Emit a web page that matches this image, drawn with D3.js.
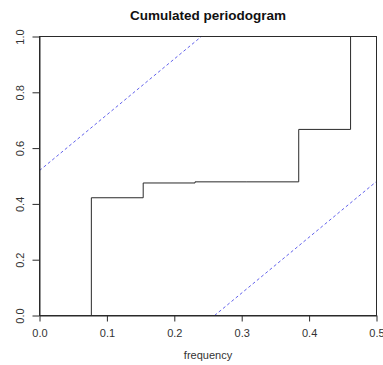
<!DOCTYPE html>
<html>
<head>
<meta charset="utf-8">
<script src="https://cdn.jsdelivr.net/npm/d3@7"></script>
<style>
  html, body { margin: 0; padding: 0; background: #fff; }
  svg { display: block; font-family: "Liberation Sans", Arial, sans-serif; }
</style>
</head>
<body>
<svg id="chart" width="383" height="365"></svg>
<script>
// Fourier frequencies (k/13) and the cumulated, normalised periodogram at each
const frequencies = [0, 1/13, 2/13, 3/13, 4/13, 5/13, 6/13];
const cumulated   = [0, 0.422, 0.475, 0.479, 0.479, 0.667, 1.0];

// Kolmogorov–Smirnov band: half-width and the Nyquist frequency
const crit = 0.5195;
const nyquist = 0.5;
const bandUpper = [[0, crit], [nyquist * (1 - crit), 1]];
const bandLower = [[nyquist * crit, 0], [nyquist, 1 - crit]];

const xTicks = [0, 0.1, 0.2, 0.3, 0.4, 0.5];
const yTicks = [0, 0.2, 0.4, 0.6, 0.8, 1.0];

const svg = d3.select("#chart");
const plotLeft = 39.5, plotRight = 376.5, plotTop = 36.5, plotBottom = 315.5;

const x = d3.scaleLinear().domain([0, nyquist]).range([plotLeft, plotRight]);
const y = d3.scaleLinear().domain([0, 1]).range([plotBottom, plotTop]);

const ink = "#2a2a2a";

// step line of the cumulated periodogram (horizontal first, then vertical)
const step = d3.line()
  .x((d, i) => x(frequencies[i]))
  .y(d => y(d))
  .curve(d3.curveStepAfter);

svg.append("path")
  .datum(cumulated)
  .attr("d", step)
  .attr("fill", "none")
  .attr("stroke", ink)
  .attr("stroke-width", 1);

// dashed confidence band
const seg = d3.line().x(d => x(d[0])).y(d => y(d[1]));
[bandUpper, bandLower].forEach(b => {
  svg.append("path")
    .datum(b)
    .attr("d", seg)
    .attr("fill", "none")
    .attr("stroke", "#3a3ae6")
    .attr("stroke-width", 0.8)
    .attr("stroke-dasharray", "3,2.5");
});

// plot frame
svg.append("rect")
  .attr("x", plotLeft).attr("y", plotTop)
  .attr("width", plotRight - plotLeft).attr("height", plotBottom - plotTop)
  .attr("fill", "none").attr("stroke", ink).attr("stroke-width", 1);

// x axis
const gx = svg.append("g")
  .attr("transform", `translate(0,${plotBottom})`)
  .call(d3.axisBottom(x).tickValues(xTicks).tickFormat(d3.format(".1f"))
        .tickSize(6).tickSizeOuter(0).tickPadding(8));
gx.select(".domain").attr("stroke", ink);
gx.selectAll(".tick line").attr("stroke", ink);
gx.selectAll(".tick text")
  .attr("fill", "#333").attr("font-size", 11)
  .attr("font-family", "Liberation Sans, Arial, sans-serif");

// y axis with rotated labels
const gy = svg.append("g")
  .attr("transform", `translate(${plotLeft},0)`)
  .call(d3.axisLeft(y).tickValues(yTicks).tickFormat(d3.format(".1f"))
        .tickSize(7).tickSizeOuter(0));
gy.select(".domain").attr("stroke", ink);
gy.selectAll(".tick line").attr("stroke", ink);
gy.selectAll(".tick text")
  .attr("transform", "rotate(-90)")
  .attr("x", 0).attr("y", -19).attr("dy", "0.36em")
  .attr("text-anchor", "middle")
  .attr("fill", "#333").attr("font-size", 11)
  .attr("font-family", "Liberation Sans, Arial, sans-serif");

// titles
svg.append("text")
  .attr("x", (plotLeft + plotRight) / 2).attr("y", 19.5)
  .attr("text-anchor", "middle")
  .attr("font-size", 13.5).attr("font-weight", "bold")
  .attr("fill", "#111")
  .text("Cumulated periodogram");

svg.append("text")
  .attr("x", (plotLeft + plotRight) / 2).attr("y", 359)
  .attr("text-anchor", "middle")
  .attr("font-size", 11)
  .attr("fill", "#333")
  .text("frequency");
</script>
</body>
</html>
